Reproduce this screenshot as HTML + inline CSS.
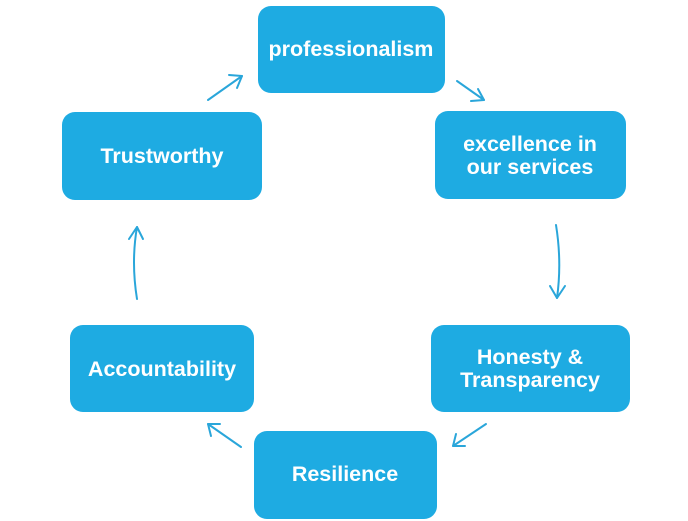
<!DOCTYPE html>
<html><head><style>
html,body{margin:0;padding:0;background:#fff;}
svg{display:block;}
text{font-family:"Liberation Sans",Arial,sans-serif;font-weight:bold;font-size:21.5px;fill:#fff;text-anchor:middle;}
</style></head><body>
<svg width="688" height="521" viewBox="0 0 688 521" xmlns="http://www.w3.org/2000/svg">
<g fill="#1eabe2">
<rect x="258" y="6" width="187" height="87" rx="13"/>
<rect x="435" y="111" width="191" height="88" rx="13"/>
<rect x="431" y="325" width="199" height="87" rx="13"/>
<rect x="254" y="431" width="183" height="88" rx="13"/>
<rect x="70" y="325" width="184" height="87" rx="13"/>
<rect x="62" y="112" width="200" height="88" rx="13"/>
</g>
<text x="351" y="56">professionalism</text>
<text x="530" y="151">excellence in</text>
<text x="530" y="174">our services</text>
<text x="530" y="364">Honesty &amp;</text>
<text x="530" y="387">Transparency</text>
<text x="345" y="481">Resilience</text>
<text x="162" y="376">Accountability</text>
<text x="162" y="163">Trustworthy</text>
<g stroke="#2aa6da" stroke-width="2" fill="none" stroke-linecap="round" stroke-linejoin="round">
<path d="M208 100 L242 76"/><path d="M229 75 L242 76 L237 88"/>
<path d="M457 81 L484 100"/><path d="M478 89 L484 100 L471 101"/>
<path d="M556 225 Q562 262 557 298"/><path d="M550 286 L557 298 L565 286"/>
<path d="M486 424 L453 446"/><path d="M456 434 L453 446 L465 446"/>
<path d="M241 447 L208 424"/><path d="M220 424 L208 424 L211 436"/>
<path d="M137 299 Q131 262 137 227"/><path d="M129 239 L137 227 L143 239"/>
</g>
</svg>
</body></html>
